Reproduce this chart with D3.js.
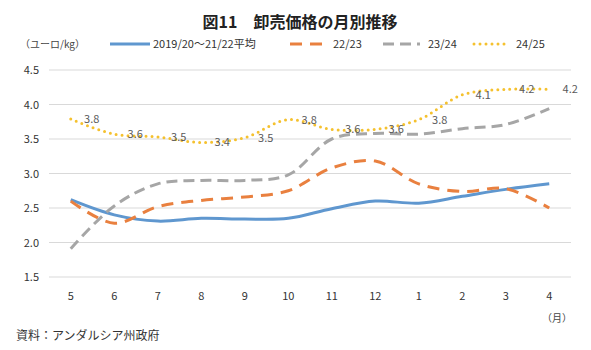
<!DOCTYPE html>
<html lang="ja">
<head>
<meta charset="utf-8">
<title>図11 卸売価格の月別推移</title>
<script src="https://d3js.org/d3.v7.min.js"></script>
<style>
  body { margin: 0; background: #fff; }
  text { font-family: "Noto Sans CJK JP", "Noto Sans", sans-serif; }
</style>
</head>
<body>
<script>
// months (May -> April)
const months = ["5", "6", "7", "8", "9", "10", "11", "12", "1", "2", "3", "4"];
const yTicks = [1.5, 2.0, 2.5, 3.0, 3.5, 4.0, 4.5];

// series values
const avg = [2.62, 2.40, 2.31, 2.35, 2.34, 2.35, 2.49, 2.60, 2.57, 2.67, 2.77, 2.85];
const s2223 = [2.60, 2.28, 2.52, 2.61, 2.66, 2.75, 3.08, 3.18, 2.85, 2.74, 2.78, 2.50];
const s2324 = [1.91, 2.53, 2.85, 2.90, 2.90, 2.98, 3.50, 3.58, 3.57, 3.65, 3.71, 3.94];
const s2425 = [3.79, 3.57, 3.53, 3.45, 3.52, 3.78, 3.64, 3.64, 3.78, 4.14, 4.22, 4.22];
const labels2425 = ["3.8", "3.6", "3.5", "3.4", "3.5", "3.8", "3.6", "3.6", "3.8", "4.1", "4.2", "4.2"];

const series = [
  { name: "2019/20～21/22平均", values: avg,   color: "#5f97cf", dash: null,   cap: "butt",  w: 3 },
  { name: "22/23",              values: s2223, color: "#e9803f", dash: "12,8", cap: "butt",  w: 3 },
  { name: "23/24",              values: s2324, color: "#a6a6a6", dash: "11,6", cap: "butt",  w: 3 },
  { name: "24/25",              values: s2425, color: "#f5c12e", dash: "0,6",  cap: "round", w: 3 }
];

const W = 591, H = 350;
const plotLeft = 49, plotRight = 571, plotTop = 70, plotBottom = 277;

const svg = d3.select("body").append("svg")
  .attr("width", W).attr("height", H);

const x = d3.scaleBand().domain(months).range([plotLeft, plotRight]);
const y = d3.scaleLinear().domain([1.5, 4.5]).range([plotBottom, plotTop]);
const cx = m => x(m) + x.bandwidth() / 2;

// title
svg.append("text")
  .attr("x", 300).attr("y", 28)
  .attr("text-anchor", "middle")
  .attr("font-size", 16).attr("font-weight", "bold")
  .attr("fill", "#222")
  .text("図11　卸売価格の月別推移");

// unit
svg.append("text")
  .attr("x", 20).attr("y", 48)
  .attr("font-size", 10).attr("fill", "#444")
  .text("（ユーロ/kg）");

// grid lines
svg.append("g")
  .selectAll("line")
  .data(yTicks)
  .enter().append("line")
  .attr("x1", plotLeft).attr("x2", plotRight)
  .attr("y1", d => y(d)).attr("y2", d => y(d))
  .attr("stroke", "#d9d9d9").attr("stroke-width", 1);

// y axis labels
const yAxis = svg.append("g")
  .attr("transform", `translate(${plotLeft},0)`)
  .call(d3.axisLeft(y).tickValues(yTicks).tickFormat(d3.format(".1f")).tickSize(0).tickPadding(10));
yAxis.select(".domain").remove();
yAxis.selectAll("text").attr("font-size", 11).attr("fill", "#333")
  .style("font-family", "'Noto Sans CJK JP', sans-serif");

// x axis labels
const xAxis = svg.append("g")
  .attr("transform", `translate(0,${plotBottom})`)
  .call(d3.axisBottom(x).tickSize(0).tickPadding(15));
xAxis.select(".domain").remove();
xAxis.selectAll("text").attr("font-size", 11).attr("fill", "#333")
  .style("font-family", "'Noto Sans CJK JP', sans-serif");

svg.append("text")
  .attr("x", 572).attr("y", 322)
  .attr("text-anchor", "end")
  .attr("font-size", 10).attr("fill", "#444")
  .text("（月）");

svg.append("text")
  .attr("x", 16).attr("y", 340)
  .attr("font-size", 12).attr("fill", "#333")
  .text("資料：アンダルシア州政府");

// lines
const line = d3.line()
  .x((d, i) => cx(months[i]))
  .y(d => y(d))
  .curve(d3.curveCatmullRom.alpha(0.5));

series.forEach(s => {
  svg.append("path")
    .datum(s.values)
    .attr("fill", "none")
    .attr("stroke", s.color)
    .attr("stroke-width", s.w)
    .attr("stroke-linecap", s.cap)
    .attr("stroke-dasharray", s.dash)
    .attr("d", line);
});

// data labels for 24/25
svg.append("g")
  .selectAll("text")
  .data(s2425)
  .enter().append("text")
  .attr("x", (d, i) => cx(months[i]) + 21)
  .attr("y", d => y(d) + 4)
  .attr("text-anchor", "middle")
  .attr("font-size", 11).attr("fill", "#595959")
  .text((d, i) => labels2425[i]);

// legend
const legendPos = [
  { x1: 110, x2: 150, tx: 153 },
  { x1: 290, x2: 327, tx: 333 },
  { x1: 383, x2: 420, tx: 428 },
  { x1: 474, x2: 505, tx: 516 }
];
series.forEach((s, i) => {
  const p = legendPos[i];
  svg.append("line")
    .attr("x1", p.x1).attr("x2", p.x2)
    .attr("y1", 44).attr("y2", 44)
    .attr("stroke", s.color)
    .attr("stroke-width", s.w)
    .attr("stroke-linecap", s.cap)
    .attr("stroke-dasharray", s.dash);
  svg.append("text")
    .attr("x", p.tx).attr("y", 48)
    .attr("font-size", 11).attr("fill", "#333")
    .text(s.name);
});
</script>
</body>
</html>
